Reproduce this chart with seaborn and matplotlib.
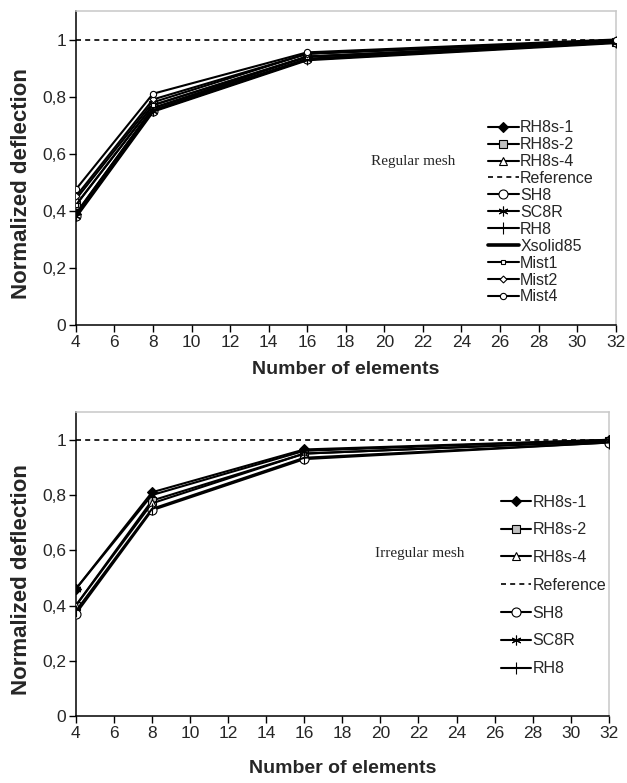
import numpy as np
import pandas as pd
import matplotlib
matplotlib.use("Agg")
import matplotlib.pyplot as plt
from matplotlib.ticker import FuncFormatter
import seaborn as sns

# Data
elements = [4, 8, 16, 32]

regular = {
    'RH8s-1':   [0.39, 0.76, 0.94, 0.99],
    'RH8s-2':   [0.42, 0.77, 0.94, 0.99],
    'RH8s-4':   [0.44, 0.78, 0.95, 0.995],
    'SH8':      [0.38, 0.75, 0.93, 0.99],
    'SC8R':     [0.38, 0.75, 0.93, 0.99],
    'RH8':      [0.39, 0.76, 0.93, 0.99],
    'Xsolid85': [0.38, 0.75, 0.93, 0.99],
    'Mist1':    [0.42, 0.77, 0.94, 0.99],
    'Mist2':    [0.45, 0.79, 0.95, 0.995],
    'Mist4':    [0.475, 0.81, 0.955, 1.0],
}

irregular = {
    'RH8s-1': [0.46, 0.81, 0.965, 1.0],
    'RH8s-2': [0.40, 0.78, 0.95, 0.995],
    'RH8s-4': [0.40, 0.77, 0.95, 0.995],
    'SH8':    [0.37, 0.745, 0.93, 0.99],
    'SC8R':   [0.46, 0.80, 0.96, 1.0],
    'RH8':    [0.38, 0.75, 0.935, 0.99],
}

reference_value = 1.0

# marker styles per series
styles = {
    'RH8s-1':   dict(marker='D', ms=5, mfc='black'),
    'RH8s-2':   dict(marker='s', ms=6, mfc='#c0c0c0'),
    'RH8s-4':   dict(marker='^', ms=6, mfc='white'),
    'SH8':      dict(marker='o', ms=6.5, mfc='white'),
    'SC8R':     dict(marker=(6, 2, 0), ms=7, mfc='black'),
    'RH8':      dict(marker='|', ms=8, mfc='black'),
    'Xsolid85': dict(marker='', lw=2.6),
    'Mist1':    dict(marker='s', ms=3.5, mfc='white'),
    'Mist2':    dict(marker='D', ms=3.5, mfc='white'),
    'Mist4':    dict(marker='o', ms=4.5, mfc='white'),
}

sns.set_style("white")
plt.rcParams['font.family'] = ['Liberation Sans', 'DejaVu Sans']

fig = plt.figure(figsize=(6.27, 7.83), dpi=100)
ax1 = fig.add_axes([0.121, 0.585, 0.861, 0.401])
ax2 = fig.add_axes([0.121, 0.0856, 0.850, 0.388])

comma = FuncFormatter(lambda v, p: ('%g' % round(v, 2)).replace('.', ','))


def draw(ax, data, ref_pos, leg_loc, spacing, mesh_text, text_xy, xpad):
    names = list(data.keys())
    for i, name in enumerate(names):
        st = dict(styles[name])
        lw = st.pop('lw', 1.5)
        mfc = st.pop('mfc', 'white')
        ms = st.pop('ms', 6)
        marker = st.pop('marker')
        sns.lineplot(x=elements, y=data[name], ax=ax, color='black', lw=lw,
                     marker=marker, markersize=ms, markerfacecolor=mfc,
                     markeredgecolor='black', markeredgewidth=0.8,
                     label=name, zorder=3)
        if i == ref_pos - 1:
            ax.axhline(reference_value, color='black', ls=(0, (3, 2.5)),
                       lw=1.2, label='Reference', zorder=2)
    ax.set_xlim(4, 32)
    ax.set_ylim(0, 1.1)
    ax.set_xticks(np.arange(4, 33, 2))
    ax.set_yticks([0, 0.2, 0.4, 0.6, 0.8, 1.0])
    ax.yaxis.set_major_formatter(comma)
    ax.tick_params(axis='both', direction='out', length=5, width=1,
                   labelsize=12.5, color='black', pad=2)
    ax.tick_params(axis='x', bottom=True)
    ax.tick_params(axis='y', left=True)
    for s in ['left', 'bottom']:
        ax.spines[s].set_color('black')
        ax.spines[s].set_linewidth(1.1)
    for s in ['top', 'right']:
        ax.spines[s].set_color('#c8c8c8')
        ax.spines[s].set_linewidth(1.1)
    ax.set_xlabel('Number of elements', fontsize=14, fontweight='bold', labelpad=xpad)
    ax.set_ylabel('Normalized deflection', fontsize=16, fontweight='bold')
    ax.yaxis.set_label_coords(-0.082, 0.45)
    ax.text(text_xy[0], text_xy[1], mesh_text, family='Liberation Serif',
            fontsize=11, transform=ax.transAxes, ha='center', va='center')
    h, l = ax.get_legend_handles_labels()
    ax.legend(h, l, loc=leg_loc, frameon=False, fontsize=11.5,
              handlelength=1.9, handletextpad=0.1, labelspacing=spacing,
              borderaxespad=0)


draw(ax1, regular, 3, (0.752, 0.045), 0.12, 'Regular mesh', (0.625, 0.52), 8)
draw(ax2, irregular, 3, (0.785, 0.11), 0.8, 'Irregular mesh', (0.645, 0.535), 14)

fig.savefig('out.png', dpi=100)
